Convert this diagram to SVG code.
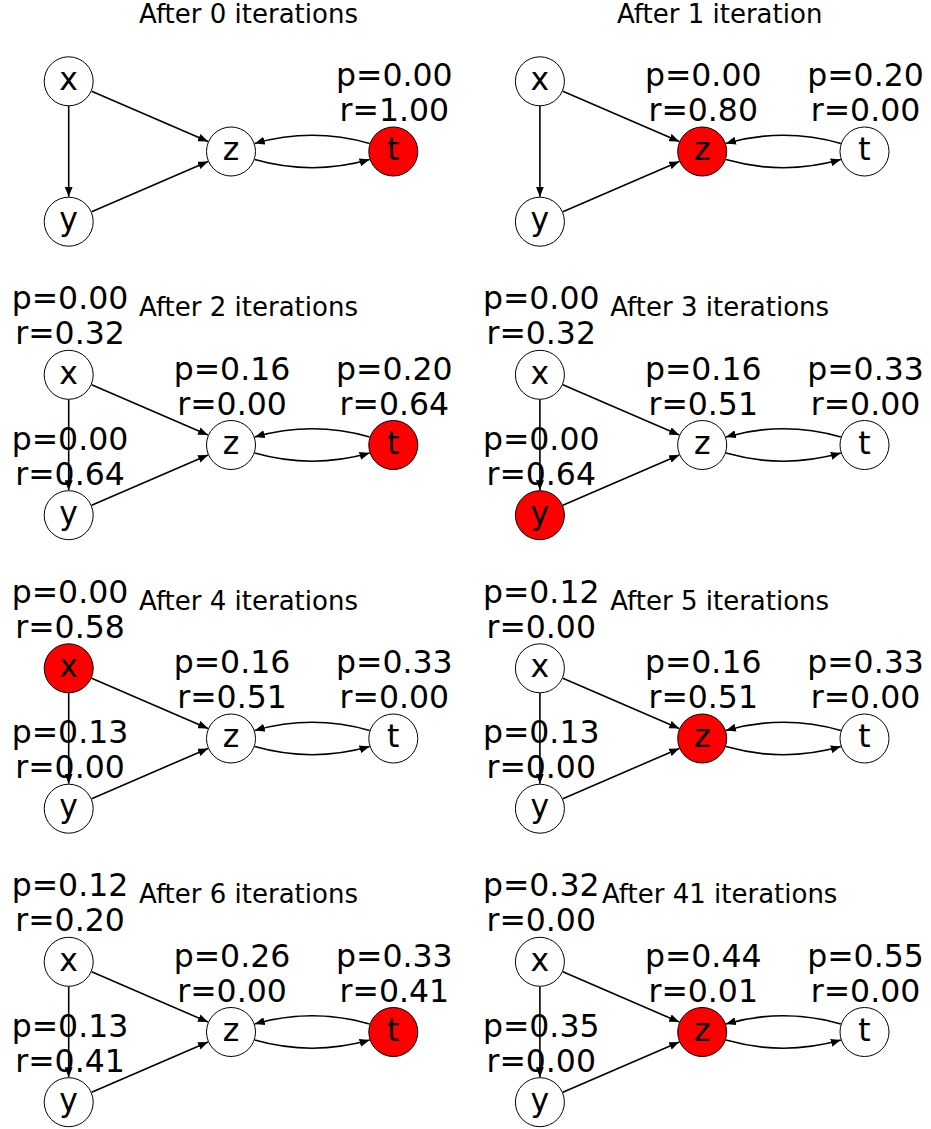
<svg xmlns="http://www.w3.org/2000/svg" width="931" height="1129" viewBox="0 0 931 1129">
<defs>
<marker id="ah" markerUnits="userSpaceOnUse" markerWidth="10" markerHeight="8" refX="10" refY="4" orient="auto">
<path d="M0,0 L10,4 L0,8 z" fill="#000"/>
</marker>
</defs>
<style>
.title{font-family:"DejaVu Sans","Liberation Sans",sans-serif;font-size:26px;text-anchor:middle;fill:#000}
.lab{font-family:"DejaVu Sans","Liberation Sans",sans-serif;font-size:31.5px;text-anchor:middle;fill:#000}
.node circle{fill:#fff;stroke:#000;stroke-width:1}
.node circle.hot{fill:#ff0000}
.edges path{fill:none;stroke:#000;stroke-width:1.6;marker-end:url(#ah)}
</style>
<rect width="931" height="1129" fill="#fff"/>

<g id="panel0" transform="translate(0,0)">
<text class="title" x="248.5" y="22.7">After 0 iterations</text>
<g id="p0-edges" class="edges">
<path d="M68.7,106 L68.7,196.7"/><path d="M91.65,91.23 L208.05,141.57"/><path d="M91.65,211.77 L208.05,161.43"/><path d="M254.7,159.6 Q312.15,175.9 369.6,159.6"/><path d="M369.6,143.4 Q312.15,127.1 254.7,143.4"/>
</g>
<g id="p0-x" class="node"><circle cx="68.7" cy="81.3" r="24.5"/><text class="lab" x="68.7" y="90">x</text></g>
<g id="p0-y" class="node"><circle cx="68.7" cy="221.7" r="24.5"/><text class="lab" x="68.7" y="230.4">y</text></g>
<g id="p0-z" class="node"><circle cx="231" cy="151.5" r="24.5"/><text class="lab" x="231" y="160.2">z</text></g>
<g id="p0-t" class="node"><circle class="hot" cx="393.3" cy="151.5" r="24.5"/><text class="lab" x="393.3" y="160.2">t</text><text class="lab" x="394.3" y="86">p=0.00</text><text class="lab" x="394.3" y="121">r=1.00</text></g>
</g>

<g id="panel1" transform="translate(471.2,0)">
<text class="title" x="248.5" y="22.7">After 1 iteration</text>
<g id="p1-edges" class="edges">
<path d="M68.7,106 L68.7,196.7"/><path d="M91.65,91.23 L208.05,141.57"/><path d="M91.65,211.77 L208.05,161.43"/><path d="M254.7,159.6 Q312.15,175.9 369.6,159.6"/><path d="M369.6,143.4 Q312.15,127.1 254.7,143.4"/>
</g>
<g id="p1-x" class="node"><circle cx="68.7" cy="81.3" r="24.5"/><text class="lab" x="68.7" y="90">x</text></g>
<g id="p1-y" class="node"><circle cx="68.7" cy="221.7" r="24.5"/><text class="lab" x="68.7" y="230.4">y</text></g>
<g id="p1-z" class="node"><circle class="hot" cx="231" cy="151.5" r="24.5"/><text class="lab" x="231" y="160.2">z</text><text class="lab" x="232" y="86">p=0.00</text><text class="lab" x="232" y="121">r=0.80</text></g>
<g id="p1-t" class="node"><circle cx="393.3" cy="151.5" r="24.5"/><text class="lab" x="393.3" y="160.2">t</text><text class="lab" x="394.3" y="86">p=0.20</text><text class="lab" x="394.3" y="121">r=0.00</text></g>
</g>

<g id="panel2" transform="translate(0,293.5)">
<text class="title" x="248.5" y="22.7">After 2 iterations</text>
<g id="p2-edges" class="edges">
<path d="M68.7,106 L68.7,196.7"/><path d="M91.65,91.23 L208.05,141.57"/><path d="M91.65,211.77 L208.05,161.43"/><path d="M254.7,159.6 Q312.15,175.9 369.6,159.6"/><path d="M369.6,143.4 Q312.15,127.1 254.7,143.4"/>
</g>
<g id="p2-x" class="node"><circle cx="68.7" cy="81.3" r="24.5"/><text class="lab" x="68.7" y="90">x</text><text class="lab" x="70" y="15.8">p=0.00</text><text class="lab" x="70" y="50.8">r=0.32</text></g>
<g id="p2-y" class="node"><circle cx="68.7" cy="221.7" r="24.5"/><text class="lab" x="68.7" y="230.4">y</text><text class="lab" x="70" y="156.2">p=0.00</text><text class="lab" x="70" y="191.2">r=0.64</text></g>
<g id="p2-z" class="node"><circle cx="231" cy="151.5" r="24.5"/><text class="lab" x="231" y="160.2">z</text><text class="lab" x="232" y="86">p=0.16</text><text class="lab" x="232" y="121">r=0.00</text></g>
<g id="p2-t" class="node"><circle class="hot" cx="393.3" cy="151.5" r="24.5"/><text class="lab" x="393.3" y="160.2">t</text><text class="lab" x="394.3" y="86">p=0.20</text><text class="lab" x="394.3" y="121">r=0.64</text></g>
</g>

<g id="panel3" transform="translate(471.2,293.5)">
<text class="title" x="248.5" y="22.7">After 3 iterations</text>
<g id="p3-edges" class="edges">
<path d="M68.7,106 L68.7,196.7"/><path d="M91.65,91.23 L208.05,141.57"/><path d="M91.65,211.77 L208.05,161.43"/><path d="M254.7,159.6 Q312.15,175.9 369.6,159.6"/><path d="M369.6,143.4 Q312.15,127.1 254.7,143.4"/>
</g>
<g id="p3-x" class="node"><circle cx="68.7" cy="81.3" r="24.5"/><text class="lab" x="68.7" y="90">x</text><text class="lab" x="70" y="15.8">p=0.00</text><text class="lab" x="70" y="50.8">r=0.32</text></g>
<g id="p3-y" class="node"><circle class="hot" cx="68.7" cy="221.7" r="24.5"/><text class="lab" x="68.7" y="230.4">y</text><text class="lab" x="70" y="156.2">p=0.00</text><text class="lab" x="70" y="191.2">r=0.64</text></g>
<g id="p3-z" class="node"><circle cx="231" cy="151.5" r="24.5"/><text class="lab" x="231" y="160.2">z</text><text class="lab" x="232" y="86">p=0.16</text><text class="lab" x="232" y="121">r=0.51</text></g>
<g id="p3-t" class="node"><circle cx="393.3" cy="151.5" r="24.5"/><text class="lab" x="393.3" y="160.2">t</text><text class="lab" x="394.3" y="86">p=0.33</text><text class="lab" x="394.3" y="121">r=0.00</text></g>
</g>

<g id="panel4" transform="translate(0,587)">
<text class="title" x="248.5" y="22.7">After 4 iterations</text>
<g id="p4-edges" class="edges">
<path d="M68.7,106 L68.7,196.7"/><path d="M91.65,91.23 L208.05,141.57"/><path d="M91.65,211.77 L208.05,161.43"/><path d="M254.7,159.6 Q312.15,175.9 369.6,159.6"/><path d="M369.6,143.4 Q312.15,127.1 254.7,143.4"/>
</g>
<g id="p4-x" class="node"><circle class="hot" cx="68.7" cy="81.3" r="24.5"/><text class="lab" x="68.7" y="90">x</text><text class="lab" x="70" y="15.8">p=0.00</text><text class="lab" x="70" y="50.8">r=0.58</text></g>
<g id="p4-y" class="node"><circle cx="68.7" cy="221.7" r="24.5"/><text class="lab" x="68.7" y="230.4">y</text><text class="lab" x="70" y="156.2">p=0.13</text><text class="lab" x="70" y="191.2">r=0.00</text></g>
<g id="p4-z" class="node"><circle cx="231" cy="151.5" r="24.5"/><text class="lab" x="231" y="160.2">z</text><text class="lab" x="232" y="86">p=0.16</text><text class="lab" x="232" y="121">r=0.51</text></g>
<g id="p4-t" class="node"><circle cx="393.3" cy="151.5" r="24.5"/><text class="lab" x="393.3" y="160.2">t</text><text class="lab" x="394.3" y="86">p=0.33</text><text class="lab" x="394.3" y="121">r=0.00</text></g>
</g>

<g id="panel5" transform="translate(471.2,587)">
<text class="title" x="248.5" y="22.7">After 5 iterations</text>
<g id="p5-edges" class="edges">
<path d="M68.7,106 L68.7,196.7"/><path d="M91.65,91.23 L208.05,141.57"/><path d="M91.65,211.77 L208.05,161.43"/><path d="M254.7,159.6 Q312.15,175.9 369.6,159.6"/><path d="M369.6,143.4 Q312.15,127.1 254.7,143.4"/>
</g>
<g id="p5-x" class="node"><circle cx="68.7" cy="81.3" r="24.5"/><text class="lab" x="68.7" y="90">x</text><text class="lab" x="70" y="15.8">p=0.12</text><text class="lab" x="70" y="50.8">r=0.00</text></g>
<g id="p5-y" class="node"><circle cx="68.7" cy="221.7" r="24.5"/><text class="lab" x="68.7" y="230.4">y</text><text class="lab" x="70" y="156.2">p=0.13</text><text class="lab" x="70" y="191.2">r=0.00</text></g>
<g id="p5-z" class="node"><circle class="hot" cx="231" cy="151.5" r="24.5"/><text class="lab" x="231" y="160.2">z</text><text class="lab" x="232" y="86">p=0.16</text><text class="lab" x="232" y="121">r=0.51</text></g>
<g id="p5-t" class="node"><circle cx="393.3" cy="151.5" r="24.5"/><text class="lab" x="393.3" y="160.2">t</text><text class="lab" x="394.3" y="86">p=0.33</text><text class="lab" x="394.3" y="121">r=0.00</text></g>
</g>

<g id="panel6" transform="translate(0,880.5)">
<text class="title" x="248.5" y="22.7">After 6 iterations</text>
<g id="p6-edges" class="edges">
<path d="M68.7,106 L68.7,196.7"/><path d="M91.65,91.23 L208.05,141.57"/><path d="M91.65,211.77 L208.05,161.43"/><path d="M254.7,159.6 Q312.15,175.9 369.6,159.6"/><path d="M369.6,143.4 Q312.15,127.1 254.7,143.4"/>
</g>
<g id="p6-x" class="node"><circle cx="68.7" cy="81.3" r="24.5"/><text class="lab" x="68.7" y="90">x</text><text class="lab" x="70" y="15.8">p=0.12</text><text class="lab" x="70" y="50.8">r=0.20</text></g>
<g id="p6-y" class="node"><circle cx="68.7" cy="221.7" r="24.5"/><text class="lab" x="68.7" y="230.4">y</text><text class="lab" x="70" y="156.2">p=0.13</text><text class="lab" x="70" y="191.2">r=0.41</text></g>
<g id="p6-z" class="node"><circle cx="231" cy="151.5" r="24.5"/><text class="lab" x="231" y="160.2">z</text><text class="lab" x="232" y="86">p=0.26</text><text class="lab" x="232" y="121">r=0.00</text></g>
<g id="p6-t" class="node"><circle class="hot" cx="393.3" cy="151.5" r="24.5"/><text class="lab" x="393.3" y="160.2">t</text><text class="lab" x="394.3" y="86">p=0.33</text><text class="lab" x="394.3" y="121">r=0.41</text></g>
</g>

<g id="panel7" transform="translate(471.2,880.5)">
<text class="title" x="248.5" y="22.7">After 41 iterations</text>
<g id="p7-edges" class="edges">
<path d="M68.7,106 L68.7,196.7"/><path d="M91.65,91.23 L208.05,141.57"/><path d="M91.65,211.77 L208.05,161.43"/><path d="M254.7,159.6 Q312.15,175.9 369.6,159.6"/><path d="M369.6,143.4 Q312.15,127.1 254.7,143.4"/>
</g>
<g id="p7-x" class="node"><circle cx="68.7" cy="81.3" r="24.5"/><text class="lab" x="68.7" y="90">x</text><text class="lab" x="70" y="15.8">p=0.32</text><text class="lab" x="70" y="50.8">r=0.00</text></g>
<g id="p7-y" class="node"><circle cx="68.7" cy="221.7" r="24.5"/><text class="lab" x="68.7" y="230.4">y</text><text class="lab" x="70" y="156.2">p=0.35</text><text class="lab" x="70" y="191.2">r=0.00</text></g>
<g id="p7-z" class="node"><circle class="hot" cx="231" cy="151.5" r="24.5"/><text class="lab" x="231" y="160.2">z</text><text class="lab" x="232" y="86">p=0.44</text><text class="lab" x="232" y="121">r=0.01</text></g>
<g id="p7-t" class="node"><circle cx="393.3" cy="151.5" r="24.5"/><text class="lab" x="393.3" y="160.2">t</text><text class="lab" x="394.3" y="86">p=0.55</text><text class="lab" x="394.3" y="121">r=0.00</text></g>
</g>
</svg>
